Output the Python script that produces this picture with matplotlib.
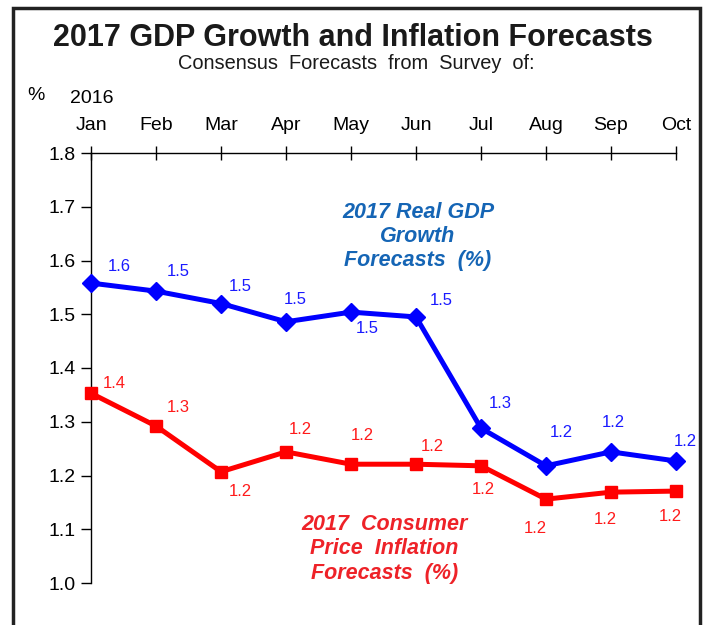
import matplotlib.pyplot as plt
from matplotlib.patches import Rectangle

months = ["Jan", "Feb", "Mar", "Apr", "May", "Jun", "Jul", "Aug", "Sep", "Oct"]
gdp = [1.558, 1.543, 1.52, 1.486, 1.504, 1.495, 1.288, 1.218, 1.244, 1.227]
cpi = [1.353, 1.292, 1.207, 1.244, 1.221, 1.221, 1.218, 1.156, 1.169, 1.171]
y_ticks = [1.0, 1.1, 1.2, 1.3, 1.4, 1.5, 1.6, 1.7, 1.8]

# label offsets in points from each marker
gdp_offsets = [(20, 12), (16, 14), (14, 12), (7, 16), (12, -12), (18, 12),
               (14, 18), (11, 24), (2, 21), (7, 14)]
cpi_offsets = [(17, 7), (16, 13), (14, -14), (10, 16), (8, 21), (12, 13),
               (2, -17), (-8, -21), (-4, -20), (-4, -18)]

plt.rcParams["font.family"] = ["Liberation Sans", "DejaVu Sans"]

fig = plt.figure(figsize=(7.06, 6.25), dpi=100)
ax = fig.add_axes([0.1289, 0.0672, 0.8286, 0.688])

x = list(range(len(months)))
ax.plot(x, gdp, color="#0000ff", lw=3.6, marker="D", ms=9.5, clip_on=False, zorder=3)
ax.plot(x, cpi, color="#ff0000", lw=3.6, marker="s", ms=8, clip_on=False, zorder=3)

for xi, v, off in zip(x, gdp, gdp_offsets):
    ax.annotate(f"{v:.1f}", (xi, v), xytext=off, textcoords="offset points",
                ha="center", va="center", color="#1a1aff", fontsize=12)
for xi, v, off in zip(x, cpi, cpi_offsets):
    ax.annotate(f"{v:.1f}", (xi, v), xytext=off, textcoords="offset points",
                ha="center", va="center", color="#ff1a1a", fontsize=12)

ax.set_xlim(0, len(months) - 1)
ax.set_ylim(1.0, 1.8)
ax.set_yticks(y_ticks)
ax.set_yticklabels([f"{t:.1f}" for t in y_ticks], fontsize=14)
ax.set_xticks(x)
ax.set_xticklabels(months, fontsize=14)
ax.xaxis.tick_top()
ax.tick_params(axis="x", direction="inout", length=10, width=1, pad=8.5)
ax.tick_params(axis="y", direction="out", length=7, width=1, pad=4)
for side in ["right", "bottom"]:
    ax.spines[side].set_visible(False)
ax.spines["top"].set_linewidth(1)
ax.spines["left"].set_linewidth(1)

ax.text(0.559, 0.806, "2017 Real GDP\nGrowth\nForecasts  (%)", transform=ax.transAxes,
        ha="center", va="center", color="#1565b5", fontsize=15.5,
        fontweight="bold", style="italic", linespacing=1.2)
ax.text(0.501, 0.08, "2017  Consumer\nPrice  Inflation\nForecasts  (%)", transform=ax.transAxes,
        ha="center", va="center", color="#ee2228", fontsize=15.5,
        fontweight="bold", style="italic", linespacing=1.22)

fig.text(0.5, 0.94, "2017 GDP Growth and Inflation Forecasts", ha="center", va="center",
         fontsize=22, fontweight="bold", color="#1a1a1a")
fig.text(0.505, 0.898, "Consensus  Forecasts  from  Survey  of:", ha="center", va="center",
         fontsize=14.4, color="#1a1a1a")
fig.text(0.051, 0.847, "%", ha="center", va="center", fontsize=14)
fig.text(0.13, 0.842, "2016", ha="center", va="center", fontsize=14)

# outer frame
fig.patches.append(Rectangle((13 / 706, -0.05), 687 / 706, 1.05 - 8 / 625,
                             transform=fig.transFigure, fill=False,
                             edgecolor="#222222", lw=2.5))

fig.savefig("out.png", dpi=100)
